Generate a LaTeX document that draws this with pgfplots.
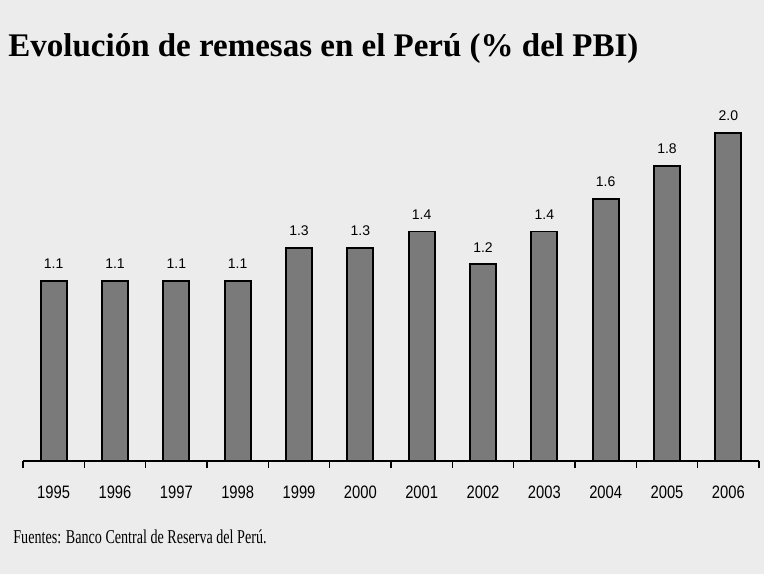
\documentclass[border=0pt]{standalone}
\usepackage{fontspec}
\setmainfont{Liberation Serif}
\setsansfont{Liberation Sans}
\newfontfamily\narrowsans[FakeStretch=0.82]{Liberation Sans}
\newfontfamily\narrowserif[FakeStretch=0.72]{Liberation Serif}
\usepackage{pgfplots}
\pgfplotsset{compat=1.18}

\definecolor{paper}{HTML}{ECECEC}
\definecolor{barfill}{HTML}{7A7A7A}

\begin{document}
\begin{tikzpicture}
% page: 764x574 px at 0.5pt per px
\fill[paper] (0,0) rectangle (382pt,287pt);
\useasboundingbox (0,0) rectangle (382pt,287pt);

\node[anchor=base west, inner sep=0pt, font=\fontsize{16.5}{18}\selectfont\bfseries]
  at (4pt,258.6pt) {Evolución de remesas en el Perú (\% del PBI)};

\begin{axis}[
    at={(11.5pt,56.5pt)}, anchor=south west,
    scale only axis, width=368pt, height=180.4pt,
    xmin=0.5, xmax=12.5, ymin=0, ymax=2.2,
    axis x line=bottom, axis y line=none,
    axis line style={-, line width=0.7pt},
    xtick={1,...,12},
    xticklabels={1995,1996,1997,1998,1999,2000,2001,2002,2003,2004,2005,2006},
    major x tick style={draw=none},
    minor xtick={0.5,1.5,...,12.5},
    minor x tick style={line width=0.6pt, black},
    minor tick length=3.5pt,
    tick align=outside,
    xticklabel style={font=\fontsize{9}{10}\narrowsans, anchor=north, inner sep=0pt, yshift=-8pt},
    ybar, bar width=13pt,
    nodes near coords={\pgfmathprintnumber[fixed,zerofill,precision=1,assume math mode=true]{\pgfplotspointmeta}},
    nodes near coords style={font=\fontsize{7}{8}\sffamily, anchor=south, inner sep=0pt, yshift=5.5pt},
    clip=false,
]
\addplot[fill=barfill, draw=black, line width=0.9pt] coordinates {
    (1,1.1) (2,1.1) (3,1.1) (4,1.1) (5,1.3) (6,1.3)
    (7,1.4) (8,1.2) (9,1.4) (10,1.6) (11,1.8) (12,2.0)
};
\end{axis}

\node[anchor=base west, inner sep=0pt, font=\fontsize{9.8}{11}\narrowserif]
  at (6.5pt,15.5pt) {Fuentes: Banco Central de Reserva del Perú.};
\end{tikzpicture}
\end{document}
